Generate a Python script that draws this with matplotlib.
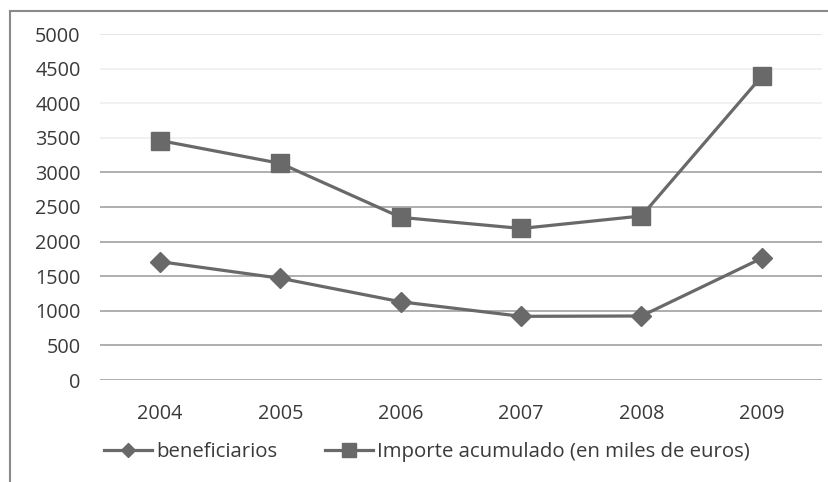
import matplotlib
matplotlib.use("Agg")
import matplotlib.pyplot as plt
from matplotlib.lines import Line2D

years = ["2004", "2005", "2006", "2007", "2008", "2009"]
beneficiarios = [1710, 1470, 1130, 920, 925, 1760]
importe = [3460, 3130, 2350, 2190, 2370, 4390]
yticks = [0, 500, 1000, 1500, 2000, 2500, 3000, 3500, 4000, 4500, 5000]

plt.rcParams['font.family'] = ['Open Sans', 'DejaVu Sans']
line_col = '#696969'
text_col = '#3a3a3a'

fig = plt.figure(figsize=(8.29, 4.82), dpi=100)
W, H = 829, 482
ax = fig.add_axes([100 / W, 1 - 380 / H, 722 / W, (380 - 34) / H])

x = list(range(len(years)))
ax.plot(x, beneficiarios, color=line_col, lw=2.3, marker='D', ms=9.8,
        label='beneficiarios', zorder=3)
ax.plot(x, importe, color=line_col, lw=2.3, marker='s', ms=13.5,
        label='Importe acumulado (en miles de euros)', zorder=3)

ax.set_xlim(-0.5, len(years) - 0.5)
ax.set_ylim(0, 5000)
ax.set_xticks(x)
ax.set_xticklabels(years)
ax.set_yticks(yticks)
ax.tick_params(axis='both', length=0, labelsize=14.3, colors=text_col)
ax.tick_params(axis='y', pad=14)
ax.tick_params(axis='x', pad=17)
for s in ax.spines.values():
    s.set_visible(False)

# horizontal gridlines (upper ones are almost washed out in the original)
for v in yticks:
    c = '#a8a8a8' if v <= 3000 else '#f0f0f0'
    if v == 5000:
        c = '#e4e4e4'
    ax.axhline(v, color=c, lw=1.3, zorder=1)

# chart border, cut at right and bottom
fig.add_artist(Line2D([10 / W, 1], [1 - 11 / H, 1 - 11 / H], color='#8a8a8a', lw=1.5))
fig.add_artist(Line2D([10 / W, 10 / W], [0, 1 - 11 / H], color='#8a8a8a', lw=1.5))

leg = fig.legend(loc='center', bbox_to_anchor=(427 / W, 1 - 452 / H), ncol=2,
                 frameon=False, fontsize=14.7, handlelength=2.35, handletextpad=0.2,
                 columnspacing=2.35, labelcolor=text_col, markerscale=0.7)

fig.savefig('out.png', dpi=100)
